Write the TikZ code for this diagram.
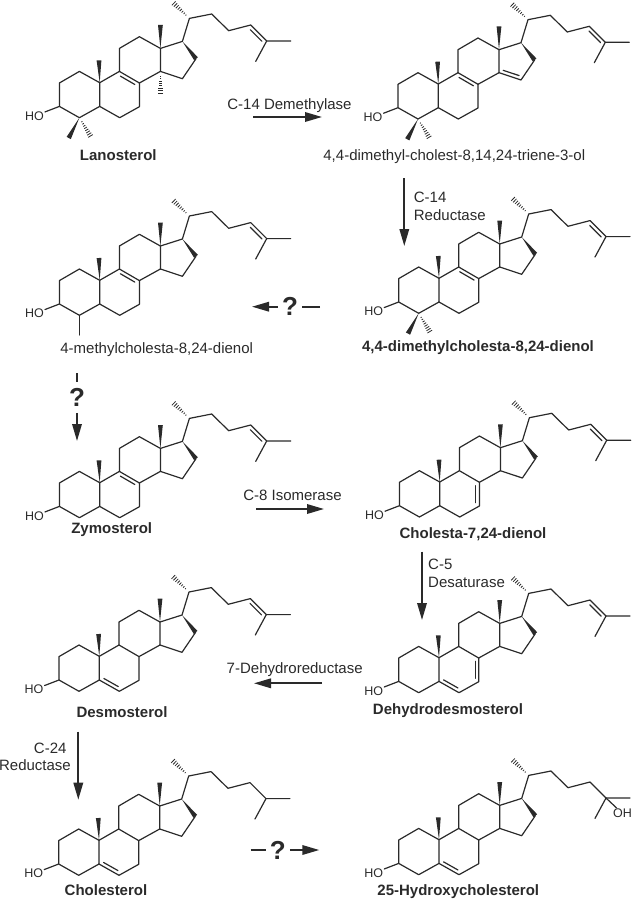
\documentclass[tikz,border=0pt]{standalone}
\usepackage{fontspec}
\setmainfont{Liberation Sans}
\usetikzlibrary{arrows.meta,calc}

\definecolor{ink}{HTML}{2A2A2A}

% double bond line on one side of a single bond
\newcommand{\innerbond}[3]{
  \draw[bond] ($(#1)!.14!(#2)!3.6pt!#3:(#2)$) -- ($(#2)!.14!(#1)!3.6pt!-#3:(#1)$);
}
\newcommand{\wedgebond}[2]{
  \fill[ink] (#1) -- ($(#2)!2.4pt!90:(#1)$) -- ($(#2)!2.4pt!-90:(#1)$) -- cycle;
}
\newcommand{\hashbond}[2]{
  \foreach \t in {.2,.3,...,1.0} {
    \draw[ink,line width=0.8pt] ($(#1)!\t!(#2)!{\t*3pt}!90:(#2)$) -- ($(#1)!\t!(#2)!{\t*3pt}!-90:(#2)$);
  }
}

\tikzset{
  bond/.style={ink,line width=1.2pt,line cap=round,line join=round},
  rxn/.style={ink,line width=1.8pt,-{Triangle[length=17pt,width=9.5pt]}},
  stub/.style={ink,line width=1.8pt},
  atom/.style={text=ink,inner sep=1pt,font=\fontsize{12.5}{14}\selectfont},
  cpd/.style={text=ink,inner sep=0pt,text height=13pt,text depth=1pt,font=\fontsize{15}{17}\selectfont},
  boldcpd/.style={cpd,font=\fontsize{15}{17}\selectfont\bfseries},
  query/.style={text=ink,inner xsep=4pt,inner ysep=6pt,font=\fontsize{26}{28}\selectfont\bfseries},
  sterol/.pic={
    \coordinate (c1) at (-20.3,-11.3);
    \coordinate (c2) at (-40.3,0.3);
    \coordinate (c3) at (-40.3,23.7);
    \coordinate (c4) at (-20.3,35);
    \coordinate (c5) at (0,23.7);
    \coordinate (c6) at (20,35);
    \coordinate (c7) at (39.7,24);
    \coordinate (c8) at (39.7,0.3);
    \coordinate (c9) at (19.7,-11.3);
    \coordinate (c10) at (0,0);
    \coordinate (c11) at (19.7,-34.3);
    \coordinate (c12) at (39.7,-46);
    \coordinate (c13) at (60.7,-34.3);
    \coordinate (c14) at (60.7,-11.3);
    \coordinate (c15) at (82.7,-4);
    \coordinate (c16) at (96.3,-24);
    \coordinate (c17) at (82.7,-41.3);
    \coordinate (c18) at (60.7,-57.7);
    \coordinate (c19) at (-0.7,-22.3);
    \coordinate (c20) at (89.7,-64.3);
    \coordinate (c21) at (72.3,-81);
    \coordinate (c22) at (112,-68.7);
    \coordinate (c23) at (129,-52);
    \coordinate (c24) at (151,-57.7);
    \coordinate (c25) at (167,-41.7);
    \coordinate (c26) at (191,-41.7);
    \coordinate (c27) at (156,-21.3);
    \coordinate (c4up) at (-31,55.3);
    \coordinate (c4dn) at (-8,55.3);
    \coordinate (c4me) at (-20.3,54.7);
    \coordinate (c14dn) at (60.7,12.7);
    \node[atom] (ho) at (-65.3,33.3) {HO};
    \draw[bond] (ho) -- (c3) -- (c2) -- (c1) -- (c10) -- (c5) -- (c4) -- (c3);
    \draw[bond] (c5) -- (c6) -- (c7) -- (c8) -- (c9) -- (c10);
    \draw[bond] (c9) -- (c11) -- (c12) -- (c13) -- (c14) -- (c8);
    \draw[bond] (c14) -- (c15) -- (c16);
    \draw[bond] (c13) -- (c17) -- (c20) -- (c22) -- (c23) -- (c24) -- (c25) -- (c26);
    \draw[bond] (c25) -- (c27);
    \wedgebond{c10}{c19}
    \wedgebond{c13}{c18}
    \wedgebond{c17}{c16}
    \hashbond{c20}{c21}
  }
}

\begin{document}
\begin{tikzpicture}[x=1pt,y=-1pt,>=Latex]
  \useasboundingbox (0,0) rectangle (632,899);

  \pic (lano-) at (99.7,82.7) {sterol};
  \pic (triene-) at (438.3,84) {sterol};
  \pic (dimeth-) at (439,278.3) {sterol};
  \pic (meth-) at (99.7,280.3) {sterol};
  \pic (zymo-) at (99.7,482.7) {sterol};
  \pic (chol7-) at (439.7,482) {sterol};
  \pic (desmo-) at (99.3,656.3) {sterol};
  \pic (dehydro-) at (439,657.7) {sterol};
  \pic (chol-) at (99,840.3) {sterol};
  \pic (hydroxy-) at (439,839.7) {sterol};

  \foreach \m in {lano-,triene-,dimeth-,meth-,zymo-} {
    \innerbond{\m c9}{\m c8}{-90}
  }
  \foreach \m in {lano-,triene-,dimeth-,meth-,zymo-,chol7-,desmo-,dehydro-} {
    \innerbond{\m c24}{\m c25}{-90}
  }
  \foreach \m in {desmo-,dehydro-,chol-,hydroxy-} {
    \innerbond{\m c5}{\m c6}{90}
  }
  \foreach \m in {chol7-,dehydro-} {
    \innerbond{\m c7}{\m c8}{90}
  }
  \foreach \m in {lano-,triene-,dimeth-} {
    \wedgebond{\m c4}{\m c4up}
    \hashbond{\m c4}{\m c4dn}
  }

  % single cases
  \hashbond{lano-c14}{lano-c14dn}
  \innerbond{triene-c14}{triene-c15}{90}
  \draw[bond] (meth-c4) -- (meth-c4me);
  \node[atom,anchor=north west] (oh) at ($(hydroxy-c25)+(6,10)$) {OH};
  \draw[bond] (hydroxy-c25) -- (oh);

  % compound names
  \node[boldcpd] (lanosterol) at (118.3,154) {Lanosterol};
  \node[cpd] (triene) at (454.3,154) {4,4-dimethyl-cholest-8,14,24-triene-3-ol};
  \node[boldcpd] (dimethyl) at (478,345) {4,4-dimethylcholesta-8,24-dienol};
  \node[cpd] (methyl) at (156.7,347) {4-methylcholesta-8,24-dienol};
  \node[boldcpd] (zymosterol) at (111.7,527) {Zymosterol};
  \node[boldcpd] (cholesta) at (473,532) {Cholesta-7,24-dienol};
  \node[boldcpd] (desmosterol) at (122,711) {Desmosterol};
  \node[boldcpd] (dehydrodesmosterol) at (448,708) {Dehydrodesmosterol};
  \node[boldcpd] (cholesterol) at (106,889) {Cholesterol};
  \node[boldcpd] (hydroxychol) at (458.3,889) {25-Hydroxycholesterol};

  % enzymes
  \node[cpd] (demethylase) at (289.5,103) {C-14 Demethylase};
  \node[cpd,anchor=west] (c14a) at (413.7,196) {C-14};
  \node[cpd,anchor=west] (c14b) at (413.7,214) {Reductase};
  \node[cpd] (isomerase) at (292.5,494) {C-8 Isomerase};
  \node[cpd,anchor=west] (c5a) at (428,563) {C-5};
  \node[cpd,anchor=west] (c5b) at (428,581) {Desaturase};
  \node[cpd] (dehydroreductase) at (294.7,667) {7-Dehydroreductase};
  \node[cpd,anchor=east] (c24a) at (66.7,747) {C-24};
  \node[cpd,anchor=east] (c24b) at (71,764.7) {Reductase};

  % reaction arrows
  \coordinate (a1s) at (253,117);
  \coordinate (a1e) at (322,117);
  \draw[rxn] (a1s) -- (a1e);
  \coordinate (a2s) at (404.3,178);
  \coordinate (a2e) at (404.3,246);
  \draw[rxn] (a2s) -- (a2e);
  \coordinate (a3s) at (256,509);
  \coordinate (a3e) at (324,509);
  \draw[rxn] (a3s) -- (a3e);
  \coordinate (a4s) at (422,551.7);
  \coordinate (a4e) at (422,620);
  \draw[rxn] (a4s) -- (a4e);
  \coordinate (a5s) at (322,683.3);
  \coordinate (a5e) at (254,683.3);
  \draw[rxn] (a5s) -- (a5e);
  \coordinate (a6s) at (78.3,731.7);
  \coordinate (a6e) at (78.3,799.7);
  \draw[rxn] (a6s) -- (a6e);

  % unknown steps
  \node[query] (q1) at (290,306.7) {?};
  \coordinate (q1s) at (320,306.7);
  \coordinate (q1e) at (252,306.7);
  \draw[stub] (q1s) -- (q1);
  \draw[rxn] (q1) -- (q1e);
  \node[query] (q2) at (77,397.7) {?};
  \coordinate (q2s) at (77,373.3);
  \coordinate (q2e) at (77,441);
  \draw[stub] (q2s) -- (q2);
  \draw[rxn] (q2) -- (q2e);
  \node[query] (q3) at (277.7,850) {?};
  \coordinate (q3s) at (250.7,850);
  \coordinate (q3e) at (319.3,850);
  \draw[stub] (q3s) -- (q3);
  \draw[rxn] (q3) -- (q3e);
\end{tikzpicture}
\end{document}
